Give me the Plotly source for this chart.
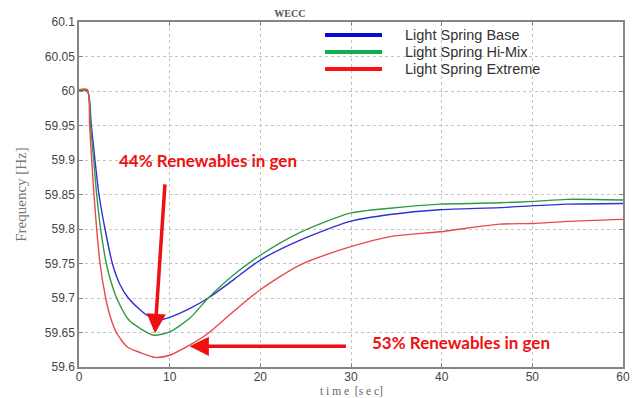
import plotly.graph_objects as go

# Frequency response after a generation trip (WECC)
t_base = [0, 0.92, 1.36, 1.76, 2.2, 2.87, 3.68, 4.5, 5.44, 6.73, 7.5, 8.57, 10,
          12.24, 14.26, 17, 20, 24.4, 29.9, 34.3, 39.8, 46.4, 53.8, 60]
f_base = [60.0, 60.0, 59.95, 59.90, 59.85, 59.80, 59.75, 59.72, 59.70, 59.683,
          59.675, 59.668, 59.672, 59.685, 59.70, 59.726, 59.755, 59.784, 59.811,
          59.821, 59.828, 59.831, 59.836, 59.837]

t_himix = [0, 0.92, 1.28, 1.62, 1.95, 2.39, 3.01, 3.5, 4.15, 5.5, 6.73, 8.27, 10,
           12.24, 14.26, 17, 20, 24.4, 29.9, 34.3, 39.8, 46.4, 50.1, 53.8, 60]
f_himix = [60.0, 60.0, 59.95, 59.90, 59.85, 59.80, 59.75, 59.725, 59.70, 59.668,
           59.656, 59.646, 59.651, 59.671, 59.70, 59.733, 59.762, 59.795, 59.823,
           59.830, 59.836, 59.838, 59.840, 59.843, 59.842]

t_extreme = [0, 0.92, 1.17, 1.4, 1.65, 1.95, 2.32, 2.94, 3.4, 4.12, 5.33, 6.73, 8.38,
             10, 12.24, 14.26, 17, 20, 24.4, 29.9, 34.3, 39.8, 46.4, 50.1, 53.8, 60]
f_extreme = [60.002, 60.002, 59.95, 59.90, 59.85, 59.80, 59.75, 59.70, 59.675, 59.65,
             59.629, 59.621, 59.614, 59.617, 59.632, 59.649, 59.680, 59.712, 59.748,
             59.774, 59.789, 59.796, 59.807, 59.808, 59.811, 59.814]

series_names = ["Light Spring Base", "Light Spring Hi-Mix", "Light Spring Extreme"]
line_colors = ["#2f2fd8", "#2f9a45", "#e84a4a"]
legend_colors = ["#0a0ad0", "#10b050", "#ff1010"]

x_ticks = [0, 10, 20, 30, 40, 50, 60]
y_ticks = [59.6, 59.65, 59.7, 59.75, 59.8, 59.85, 59.9, 59.95, 60, 60.05, 60.1]
y_tick_text = ["59.6", "59.65", "59.7", "59.75", "59.8", "59.85", "59.9", "59.95",
               "60", "60.05", "60.1"]

x_title = "t i m e  [s e c]"
y_title = "Frequency [Hz]"
label_44 = "44% Renewables in gen"
label_53 = "53% Renewables in gen"

fig = go.Figure()
for t, f, name, c in zip([t_base, t_himix, t_extreme], [f_base, f_himix, f_extreme],
                         series_names, line_colors):
    fig.add_trace(go.Scatter(x=t, y=f, mode="lines", name=name, showlegend=False,
                             line=dict(color=c, width=1.4, shape="spline", smoothing=0.7)))

# Legend drawn as short thick strokes with labels beside them
leg_x0, leg_x1, leg_tx = 0.4522, 0.5570, 0.5974
leg_rows = [0.9623, 0.9130, 0.8638]
for name, c, yr in zip(series_names, legend_colors, leg_rows):
    fig.add_shape(type="line", xref="paper", yref="paper", x0=leg_x0, x1=leg_x1,
                  y0=yr, y1=yr, line=dict(color=c, width=4))
    fig.add_annotation(xref="paper", yref="paper", x=leg_tx, y=yr, text=name,
                       showarrow=False, xanchor="left", yanchor="middle",
                       borderpad=0,
                       font=dict(family="Liberation Sans", size=14.5, color="#333333"))

# Callout arrows
fig.add_annotation(x=8.38, y=59.649, ax=9.49, ay=59.867, xref="x", yref="y",
                   axref="x", ayref="y", text="", showarrow=True, arrowhead=2,
                   arrowsize=1.1, arrowwidth=3.5, arrowcolor="#ee1111")
fig.add_annotation(x=12.2, y=59.630, ax=29.6, ay=59.630, xref="x", yref="y",
                   axref="x", ayref="y", text="", showarrow=True, arrowhead=2,
                   arrowsize=1.1, arrowwidth=3.5, arrowcolor="#ee1111")
fig.add_annotation(x=14.23, y=59.9, text=label_44, showarrow=False,
                   font=dict(family="Lato", size=17, color="#ee1111", weight="bold"))
fig.add_annotation(x=42.1, y=59.635, text=label_53, showarrow=False,
                   font=dict(family="Lato", size=17, color="#ee1111", weight="bold"))

# x-axis title sits along the bottom edge of the page
fig.add_annotation(xref="paper", yref="paper", x=0.5, y=-31 / 345, text=x_title,
                   showarrow=False, xanchor="center", yanchor="bottom", borderpad=0,
                   font=dict(family="Liberation Serif", size=11.5, color="#666666"))

axis_common = dict(
    showline=True, linecolor="#858585", linewidth=1.5, mirror="ticks",
    ticks="inside", ticklen=4, tickcolor="#858585",
    showgrid=True, gridcolor="#c4c4c4", griddash="dot", gridwidth=1,
    zeroline=False, automargin=False,
    tickfont=dict(family="Liberation Sans", size=12, color="#454545"),
)

fig.update_layout(
    width=641, height=398,
    margin=dict(l=79, r=18, t=22, b=31),
    paper_bgcolor="white", plot_bgcolor="white",
    title=dict(text="<b>WECC</b>", x=0.4522, xanchor="center", y=0.967, yanchor="middle",
               font=dict(family="Liberation Serif", size=10, color="#555555")),
    xaxis=dict(axis_common, range=[0, 60], tickvals=x_ticks, ticklabelstandoff=-2),
    yaxis=dict(axis_common, range=[59.6, 60.1], tickvals=y_ticks, ticktext=y_tick_text,
               title=dict(text=y_title,
                          font=dict(family="Liberation Serif", size=15, color="#777777"))),
    showlegend=False,
)

fig.write_html("out.html")
